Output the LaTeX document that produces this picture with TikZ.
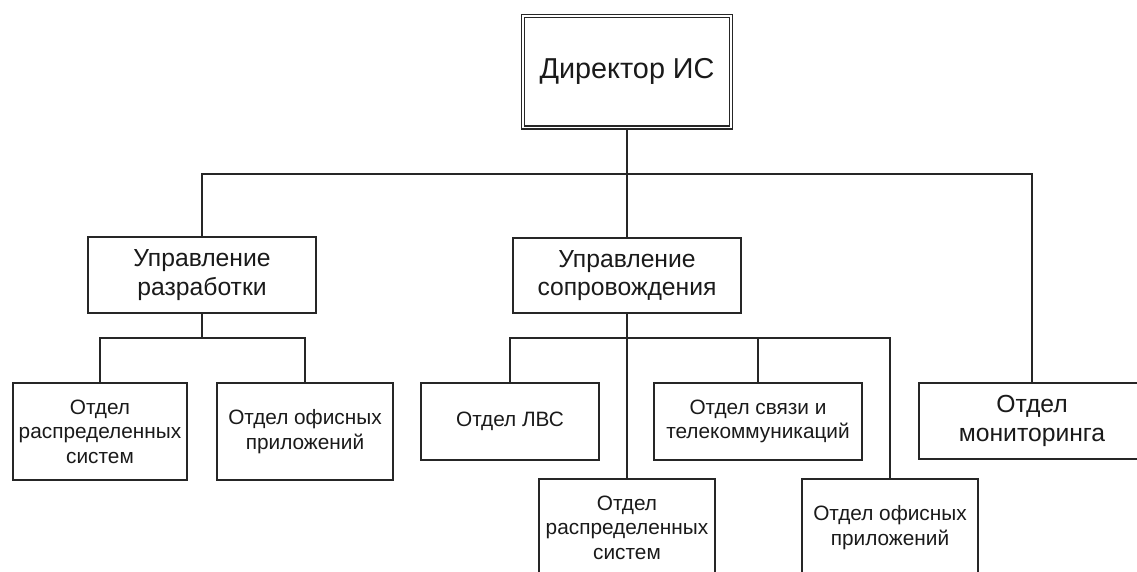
\documentclass[tikz,border=0pt]{standalone}
\usepackage{fontspec}
\setmainfont{Liberation Sans}
\definecolor{linec}{HTML}{262626}
\definecolor{textc}{HTML}{1A1A1A}
\begin{document}
\begin{tikzpicture}[x=1pt,y=-1pt,
  unit/.style={draw=linec, line width=1.4pt, fill=white, inner sep=0pt,
    align=center, text=textc, anchor=center},
  chief/.style={draw=linec, line width=1.3pt, double=white, double distance=1.8pt,
    inner sep=0pt, align=center, text=textc, anchor=center,
    font=\fontsize{28.8}{33}\selectfont},
  big/.style={font=\fontsize{24.7}{28.5}\selectfont},
  small/.style={font=\fontsize{20.8}{24.5}\selectfont},
  link/.style={draw=linec, line width=1.4pt}]
\useasboundingbox (0,0) rectangle (1137,571);
\clip (0,0) rectangle (1137,571);
\fill[white] (0,0) rectangle (1137,571);

% head of the service
\node[chief, minimum width=207.5pt, minimum height=111.5pt] (dir) at (627,71.75) {Директор ИС};

% second level
\node[unit, big, minimum width=228pt, minimum height=76pt] (ctlDev) at (202,275) {Управление\\разработки};
\node[unit, big, minimum width=228pt, minimum height=75pt] (ctlSup) at (627,275.5) {Управление\\сопровождения};
\node[unit, big, minimum width=226pt, minimum height=76pt] (mon) at (1032,421) {Отдел\\мониторинга};

% departments of development
\node[unit, small, minimum width=174pt, minimum height=97pt] (devDist) at (100,431.5) {Отдел\\распределенных\\систем};
\node[unit, small, minimum width=176pt, minimum height=97pt] (devOffice) at (305,431.5) {Отдел офисных\\приложений};

% departments of support
\node[unit, small, minimum width=178pt, minimum height=77pt] (supLan) at (510,421.5) {Отдел ЛВС};
\node[unit, small, minimum width=208pt, minimum height=77pt] (supComm) at (758,421.5) {Отдел связи и\\телекоммуникаций};
\node[unit, small, minimum width=176pt, minimum height=97pt] (supDist) at (627,527.5) {Отдел\\распределенных\\систем};
\node[unit, small, minimum width=176pt, minimum height=97pt] (supOffice) at (890,527.5) {Отдел офисных\\приложений};

% junction points of the connector buses
\coordinate (bus1) at (627,174);
\coordinate (bus2) at (202,338);
\coordinate (bus3) at (627,338);

% connectors from the director
\draw[link] (dir.south) -- (bus1);
\draw[link] (bus1) -| (ctlDev.north);
\draw[link] (bus1) -- (ctlSup.north);
\draw[link] (bus1) -| (mon.north);

% connectors of the development branch
\draw[link] (ctlDev.south) -- (bus2);
\draw[link] (bus2) -| (devDist.north);
\draw[link] (bus2) -| (devOffice.north);

% connectors of the support branch
\draw[link] (ctlSup.south) -- (bus3);
\draw[link] (bus3) -| (supLan.north);
\draw[link] (bus3) -- (supDist.north);
\draw[link] (bus3) -| (supComm.north);
\draw[link] (bus3) -| (supOffice.north);
\end{tikzpicture}
\end{document}
